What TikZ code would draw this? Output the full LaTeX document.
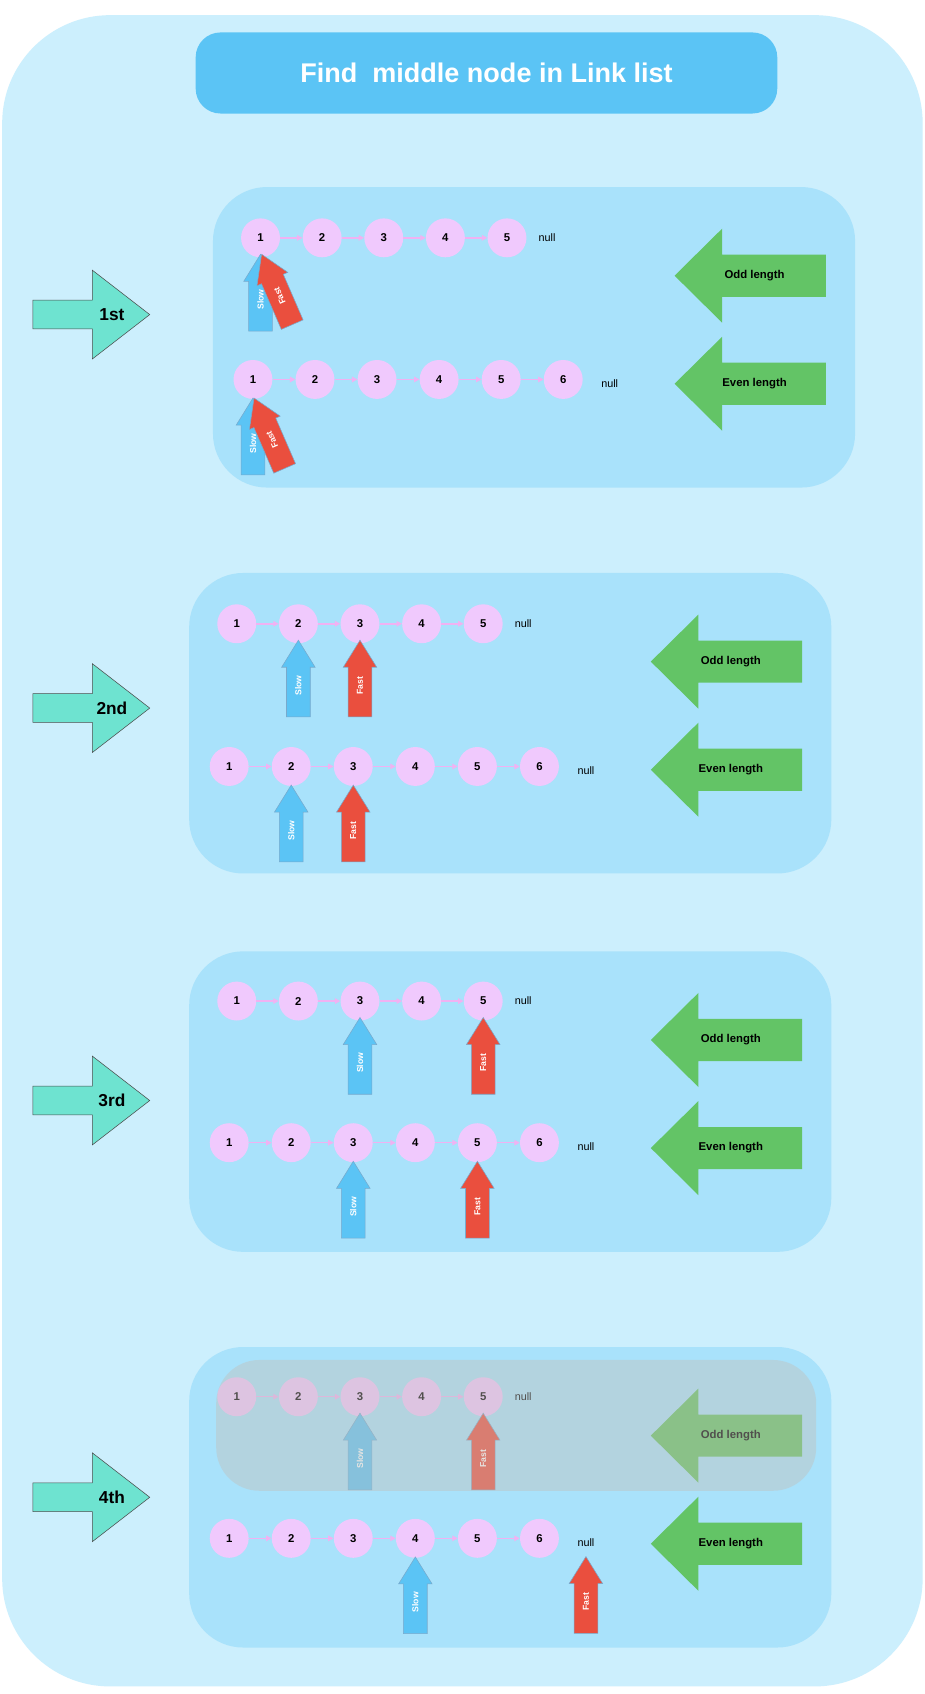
\documentclass[tikz,border=0pt]{standalone}
\usepackage{fontspec}
\setmainfont{Liberation Sans}
\usetikzlibrary{arrows.meta,positioning}
\definecolor{outerbg}{HTML}{CCEFFD}
\definecolor{panelbg}{HTML}{A9E2FB}
\definecolor{titlebg}{HTML}{5BC4F5}
\definecolor{nodepink}{HTML}{F0C9FD}
\definecolor{linkpink}{HTML}{F0B2F2}
\definecolor{slowblue}{HTML}{5BC4F5}
\definecolor{fastred}{HTML}{EA4F3E}
\definecolor{pointeredge}{RGB}{120,170,205}
\definecolor{lengthgreen}{HTML}{63C466}
\definecolor{stepteal}{HTML}{6EE3D0}
\definecolor{fadegray}{RGB}{195,191,186}
\begin{document}
\begin{tikzpicture}[x=1pt,y=-1pt]

        % Styles
        \tikzstyle{panel}=[fill=panelbg,rounded corners=50pt]
        \tikzstyle{title box}=[fill=titlebg,rounded corners=23pt,minimum width=538pt,minimum height=75pt,text=white,font=\bfseries\fontsize{25}{30}\selectfont]
        \tikzstyle{list node}=[circle,fill=nodepink,minimum size=36pt,inner sep=0pt,font=\bfseries\fontsize{10.5}{12}\selectfont]
        \tikzstyle{link}=[draw=linkpink,line width=1.4pt,-{Triangle[length=5pt,width=5pt]}]
        \tikzstyle{null text}=[inner sep=1pt,font=\fontsize{10}{12}\selectfont]
        \tikzstyle{pointer text}=[rotate=90,transform shape,inner sep=0pt,text=white,font=\bfseries\fontsize{8}{9}\selectfont]
        \tikzstyle{length text}=[inner sep=0pt,font=\bfseries\fontsize{10.5}{12}\selectfont]
        \tikzstyle{step text}=[inner sep=0pt,font=\bfseries\fontsize{16}{18}\selectfont]
        \tikzset{
            pointer/.pic={
                \path[pic actions] (0,0) -- (15.5,25) -- (11,25) -- (11,71) -- (-11,71) -- (-11,25) -- (-15.5,25) -- cycle;
                \node[pointer text] (-label) at (0,42) {#1};
            },
            length arrow/.pic={
                \path[pic actions] (0,0) -- (44,-43.5) -- (44,-19.5) -- (140,-19.5) -- (140,19.5) -- (44,19.5) -- (44,43.5) -- cycle;
                \node[length text] (-label) at (74,0) {#1};
            },
            step arrow/.pic={
                \path[pic actions] (0,0) -- (-53,-41) -- (-53,-13.3) -- (-108,-13.3) -- (-108,13.3) -- (-53,13.3) -- (-53,41) -- cycle;
                \node[step text] (-label) at (-35,0) {#1};
            }
        }

        %The graphic
        \useasboundingbox (0,0) rectangle (855.6,1567);
        \fill[white] (0,0) rectangle (855.6,1567);
        \fill[outerbg,rounded corners=100pt] (2,14) rectangle (853.5,1560);
        \node[title box] (title) at (450,67.5) {Find\ \ middle node in Link list};

        %steps
        \foreach \i/\s/\y in {1/1st/291, 2/2nd/655, 3/3rd/1018, 4/4th/1385}
            \pic[fill=stepteal,draw=black!70,line width=0.5pt] (step\i) at (138.5,\y) {step arrow=\s};

        %panels with both lists
        \foreach \p/\top/\ra/\rb/\dx in {1/173/220/351/22, 2/530/577/709/0, 3/880/926/1057/0, 4/1246/1292/1423/0}{
            \begin{scope}[xshift=\dx pt]
                \fill[style=panel] (175,\top) rectangle (769,\top+278);
                % odd length
                \foreach \n in {1,...,5}
                    \node[list node] (p\p a\n) at (162+57*\n,\ra) {\n};
                \foreach \n [count=\m from 2] in {1,...,4}
                    \draw[link] (p\p a\n) -- (p\p a\m);
                \node[null text] (p\p anull) at (484,\ra) {null};
                % even length
                \foreach \n in {1,...,6}
                    \node[list node] (p\p b\n) at (154.6+57.4*\n,\rb) {\n};
                \foreach \n [count=\m from 2] in {1,...,5}
                    \draw[link] (p\p b\n) -- (p\p b\m);
                \node[null text] (p\p bnull) at (542,\rb+4) {null};
                \pic[fill=lengthgreen] (p\p-odd) at (602,\top+82) {length arrow=Odd length};
                \pic[fill=lengthgreen] (p\p-even) at (602,\top+182) {length arrow=Even length};
            \end{scope}
        }

        %slow and fast
        \tikzstyle{slow}=[fill=slowblue,draw=pointeredge,line width=0.5pt]
        \tikzstyle{fast}=[fill=fastred,draw=pointeredge,line width=0.5pt]
        \foreach \r/\up in {a/3, b/1}{
            \pic[slow] (p1\r-slow) at ([yshift=\up pt]p1\r1.south) {pointer=Slow};
            \pic[fast,rotate=23.5] (p1\r-fast) at ([xshift=1pt,yshift=\up pt]p1\r1.south) {pointer=Fast};
        }
        \foreach \p/\s/\f in {2/2/3, 3/3/5}{
            \foreach \r/\up in {a/3, b/1}{
                \pic[slow] (p\p\r-slow) at ([yshift=\up pt]p\p\r\s.south) {pointer=Slow};
                \pic[fast] (p\p\r-fast) at ([yshift=\up pt]p\p\r\f.south) {pointer=Fast};
            }
        }
        \pic[slow] (p4a-slow) at ([yshift=3pt]p4a3.south) {pointer=Slow};
        \pic[fast] (p4a-fast) at ([yshift=3pt]p4a5.south) {pointer=Fast};
        \pic[slow] (p4b-slow) at ([yshift=1pt]p4b4.south) {pointer=Slow};
        \pic[fast] (p4b-fast) at ([yshift=-8pt]p4bnull.south) {pointer=Fast};

        %odd list done
        \fill[fadegray,fill opacity=0.415,rounded corners=40pt] (200,1258) rectangle (755,1379);
\end{tikzpicture}
\end{document}
